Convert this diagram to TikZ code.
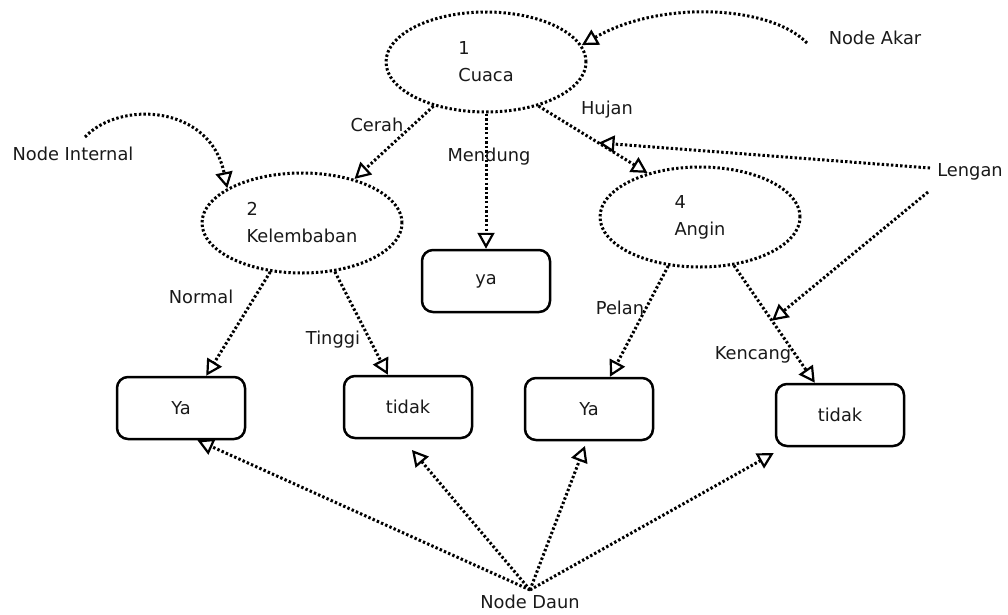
\documentclass[tikz,border=0pt]{standalone}
\usepackage{fontspec}
\setmainfont{DejaVu Sans}
\usetikzlibrary{shapes.geometric,arrows.meta}

\begin{document}
\begin{tikzpicture}[x=1pt,y=-1pt,font=\fontsize{17.8}{27}\selectfont,text=black!90]
\tikzstyle{atribut} = [shape = ellipse,draw,dash pattern=on 2.4pt off 2.2pt,line width=3pt,minimum width=200pt,minimum height=100pt,inner sep=0pt,align=left]
\tikzstyle{daun} = [shape = rectangle,draw,rounded corners=11pt,line width=2.5pt,minimum width=128pt,minimum height=62pt]
\tikzstyle{teks} = [inner sep=2pt]
\tikzstyle{garis} = [dash pattern=on 2.4pt off 2.2pt,line width=3pt,-{Triangle[open,length=16pt,width=17pt,line width=2.2pt]}]

\useasboundingbox (0,0) rectangle (1008,614);

% node atribut
\node[atribut] (cuaca) at (486,62) {1\\Cuaca};
\node[atribut] (kelem) at (302,223) {2\\Kelembaban};
\node[atribut] (angin) at (700,217) {4\\Angin};

% node daun
\node[daun] (ya0) at (486,281) {ya};
\node[daun] (ya1) at (181,408) {Ya};
\node[daun] (tidak1) at (408,407) {tidak};
\node[daun] (ya2) at (589,409) {Ya};
\node[daun] (tidak2) at (840,415) {tidak};

% keterangan
\node[teks] (akar) at (875,38) {Node Akar};
\node[teks] (internal) at (73,154) {Node Internal};
\node[teks] (lengan) at (970,172) {Lengan};
\node[teks,inner sep=5pt] (ndaun) at (530,602) {Node Daun};

% lengan
\draw[garis] (cuaca.220) -- (kelem.40);
\draw[garis] (cuaca.south) -- (ya0.north);
\draw[garis] (cuaca.320) -- coordinate[pos=.55] (hujanpt) (angin.140);
\draw[garis] (kelem.237) -- (ya1.52);
\draw[garis] (kelem.304) -- (tidak1.122);
\draw[garis] (angin.237) -- (ya2.57);
\draw[garis] (angin.305) -- coordinate[pos=.47] (kencangpt) (tidak2.128);

\node[teks] (cerah) at (377,125) {Cerah};
\node[teks] (mendung) at (489,157) {Mendung};
\node[teks] (hujan) at (607,110) {Hujan};
\node[teks] (normal) at (201,297) {Normal};
\node[teks] (tinggi) at (333,340) {Tinggi};
\node[teks] (pelan) at (620,308) {Pelan};
\node[teks] (kencang) at (753,355) {Kencang};

% penunjuk keterangan
\coordinate (akarujung) at (807,43);
\coordinate (internalujung) at (85,137);
\coordinate (lengan1) at (930,168);
\coordinate (lengan2) at (928,192);

\draw[garis] (akarujung) .. controls (770,5) and (660,0) .. (cuaca.10);
\draw[garis] (internalujung) .. controls (120,100) and (210,105) .. (kelem.155);
\draw[garis] (lengan1) -- (hujanpt);
\draw[garis] (lengan2) -- (kencangpt);

\draw[garis] (ndaun.north) -- (ya1.297);
\draw[garis,shorten >=14pt] (ndaun.north) -- (tidak1.261);
\draw[garis,shorten >=5pt] (ndaun.north) -- (ya2.266);
\draw[garis,shorten >=12pt] (ndaun.north) -- (tidak2.210);

\end{tikzpicture}
\end{document}
